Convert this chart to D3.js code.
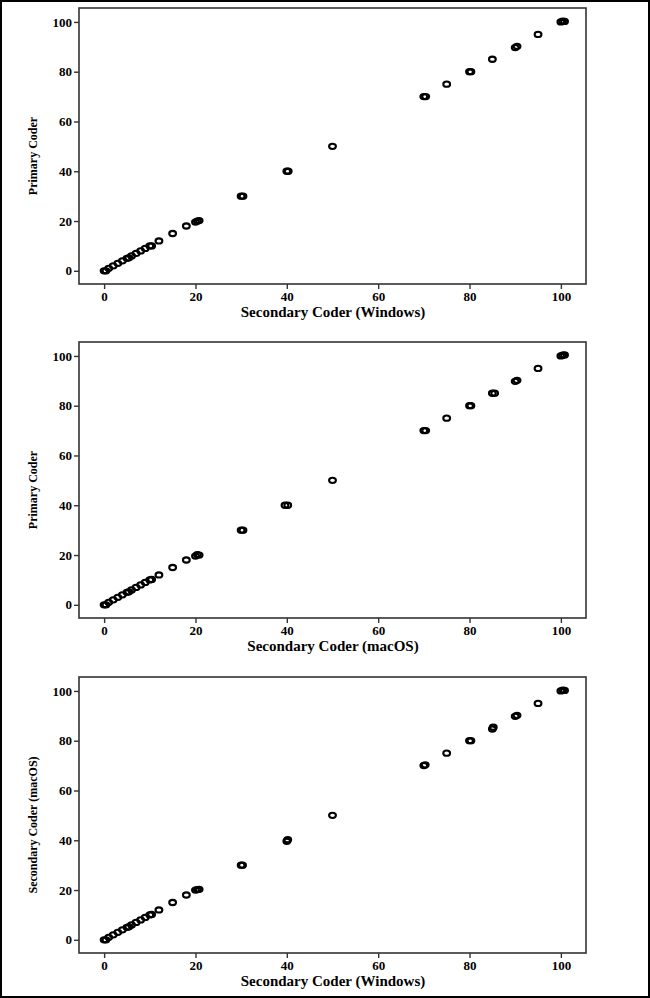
<!DOCTYPE html>
<html>
<head>
<meta charset="utf-8">
<script src="https://cdn.jsdelivr.net/npm/d3@7"></script>
<style>
  body { margin: 0; background: #fff; }
  svg { display: block; }
  .tick text { font-family: "Liberation Serif", serif; font-weight: bold; font-size: 13px; fill: #000; }
  .xtitle { font-family: "Liberation Serif", serif; font-weight: bold; font-size: 15px; }
  .ytitle { font-family: "Liberation Serif", serif; font-weight: bold; font-size: 12px; }
</style>
</head>
<body>
<script>
// values (x = secondary coder, y = other coder)
var p1_x = [0, 0.4, 1, 2, 3, 4, 5, 5.4, 6, 7, 8, 9, 10, 10.4, 12, 15, 18, 20, 20.4, 20.8, 30, 30.4, 40, 40.3, 50, 70, 70.4, 75, 80, 80.3, 85, 90, 90.4, 95, 100, 100.4, 100.8];
var p1_y = [0, 0, 1, 2, 3, 4, 5, 5.2, 6, 7, 8, 9, 10, 10, 12, 15, 18, 19.6, 20, 20.2, 30, 30, 40, 40, 50, 70, 70, 75, 80, 80, 85, 89.7, 90.2, 95, 100, 100.3, 100.2];

var p2_x = [0, 0.4, 1, 2, 3, 4, 5, 5.4, 6, 7, 8, 9, 10, 10.4, 12, 15, 18, 20, 20.4, 20.8, 30, 30.4, 39.6, 40.2, 50, 70, 70.4, 75, 80, 80.3, 85, 85.5, 90, 90.4, 95, 100, 100.4, 100.8];
var p2_y = [0, 0, 1, 2, 3, 4, 5, 5.2, 6, 7, 8, 9, 10, 10.2, 12, 15, 18, 19.6, 20.2, 20, 30, 30, 40, 40, 50, 70, 70, 75, 80, 80, 85, 85, 89.8, 90.2, 95, 100, 100.3, 100.4];

var p3_x = [0, 0.4, 1, 2, 3, 4, 5, 5.4, 6, 7, 8, 9, 10, 10.4, 12, 15, 18, 20, 20.4, 20.8, 30, 30.3, 40, 40.2, 50, 70, 70.3, 75, 80, 80.3, 85, 85.2, 90, 90.4, 95, 100, 100.4, 100.8];
var p3_y = [0, 0, 1, 2, 3, 4, 5, 5.2, 6, 7, 8, 9, 10, 10.2, 12, 15, 18, 20, 20.2, 20.3, 30, 30, 39.6, 40.2, 50, 70, 70.3, 75, 80, 80, 84.7, 85.4, 89.8, 90.2, 95, 100, 100.3, 100.2];

var tickValues = [0, 20, 40, 60, 80, 100];
var panels = [
  {xs: p1_x, ys: p1_y, xTitle: "Secondary Coder (Windows)", yTitle: "Primary Coder", top: 8},
  {xs: p2_x, ys: p2_y, xTitle: "Secondary Coder (macOS)", yTitle: "Primary Coder", top: 342},
  {xs: p3_x, ys: p3_y, xTitle: "Secondary Coder (Windows)", yTitle: "Secondary Coder (macOS)", top: 677}
];

var width = 650, height = 998;
var left = 79, right = 586, ph = 276;

var svg = d3.select("body").append("svg")
    .attr("width", width)
    .attr("height", height);

// outer frame
svg.append("rect")
    .attr("x", 1).attr("y", 1)
    .attr("width", width - 2).attr("height", height - 2)
    .attr("fill", "none").attr("stroke", "#000").attr("stroke-width", 2);

var x = d3.scaleLinear().domain([-5.5, 105.5]).range([left, right]);

panels.forEach(function(p) {
    var y = d3.scaleLinear().domain([-5.3, 105.6]).range([p.top + ph, p.top]);
    var g = svg.append("g");

    g.append("rect")
        .attr("x", left).attr("y", p.top)
        .attr("width", right - left).attr("height", ph)
        .attr("fill", "none").attr("stroke", "#333").attr("stroke-width", 1.6);

    var xa = g.append("g")
        .attr("transform", "translate(0," + (p.top + ph) + ")")
        .call(d3.axisBottom(x).tickValues(tickValues).tickSize(5).tickPadding(3));
    xa.select(".domain").remove();
    xa.selectAll("line").attr("stroke", "#333").attr("stroke-width", 1.4);

    var ya = g.append("g")
        .attr("transform", "translate(" + left + ",0)")
        .call(d3.axisLeft(y).tickValues(tickValues).tickSize(5).tickPadding(2));
    ya.select(".domain").remove();
    ya.selectAll("line").attr("stroke", "#333").attr("stroke-width", 1.4);

    g.append("text")
        .attr("class", "xtitle")
        .attr("x", 333).attr("y", p.top + ph + 33)
        .attr("text-anchor", "middle")
        .text(p.xTitle);

    var yc = p.top + ph / 2 + 10;
    g.append("text")
        .attr("class", "ytitle")
        .attr("transform", "translate(37," + yc + ") rotate(-90)")
        .attr("text-anchor", "middle")
        .text(p.yTitle);

    g.selectAll("ellipse")
        .data(p.xs.map(function(v, i) { return [v, p.ys[i]]; }))
        .enter().append("ellipse")
        .attr("cx", function(d) { return x(d[0]); })
        .attr("cy", function(d) { return y(d[1]); })
        .attr("rx", 3.4).attr("ry", 2.6)
        .attr("fill", "none")
        .attr("stroke", "#000")
        .attr("stroke-width", 2.1);
});
</script>
</body>
</html>
